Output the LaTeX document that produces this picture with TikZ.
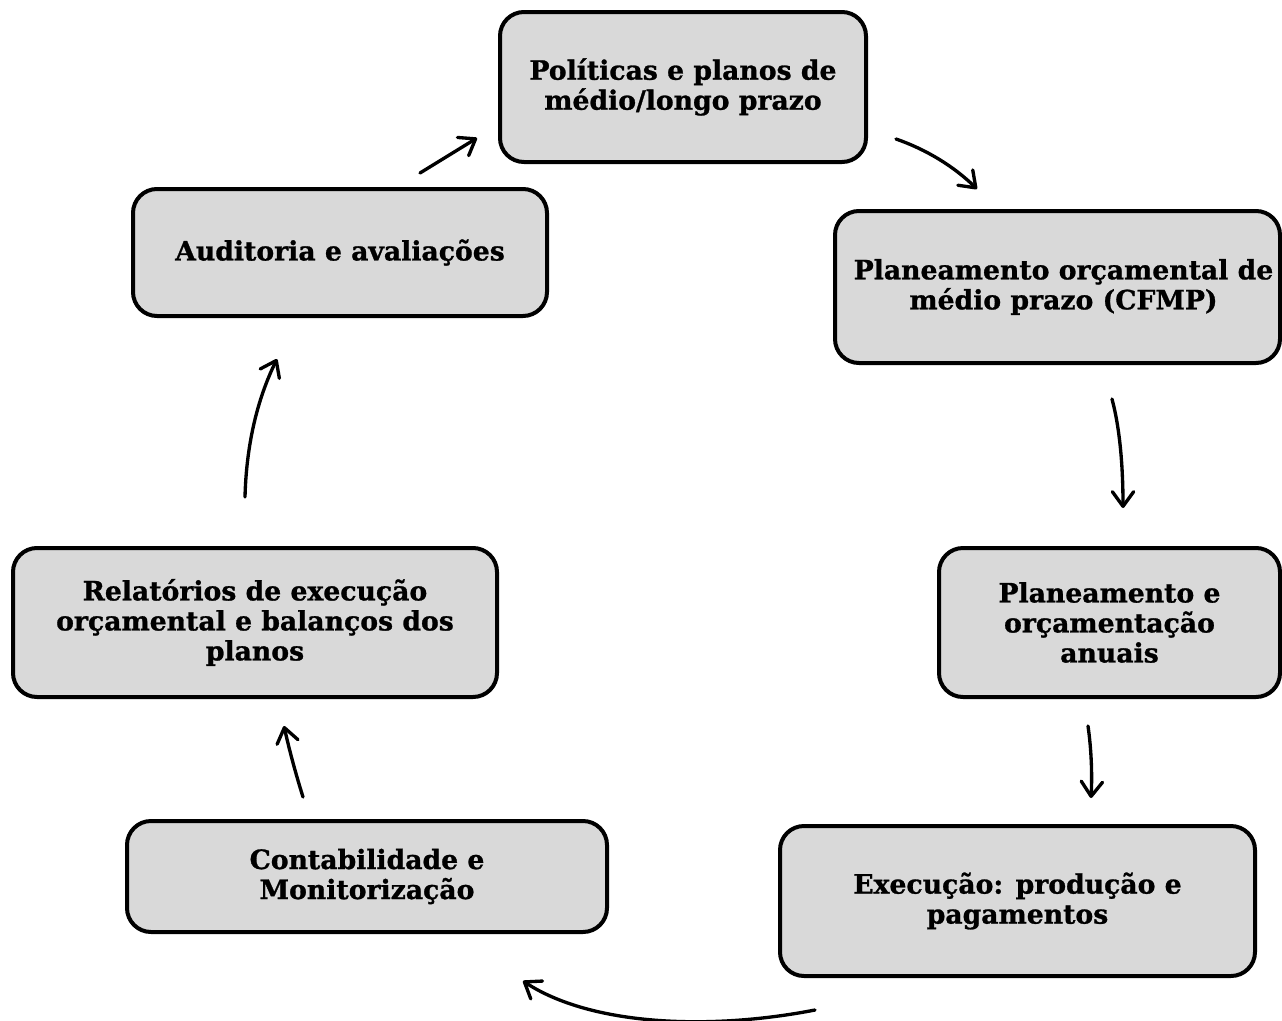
\documentclass[tikz,border=0pt]{standalone}
\usepackage{fontspec}
\setmainfont{DejaVu Serif}[BoldFeatures={FakeBold=1}]
\usetikzlibrary{arrows.meta}
\definecolor{boxgray}{HTML}{D9D9D9}
\begin{document}
\begin{tikzpicture}[x=0.75pt,y=-0.75pt,
  box/.style={draw=black, line width=3pt, fill=boxgray, rounded corners=18pt,
    align=center, inner sep=0pt,
    font=\fontsize{20}{22.5}\selectfont\bfseries},
  flow/.style={line width=2.5pt, line cap=round,
    -{Straight Barb[length=11pt,width=16pt,line cap=round,line join=round]}}]
\useasboundingbox (0,0) rectangle (1282,1021);
\clip (0,0) rectangle (1282,1021);

\node[box, minimum width=274.5pt, minimum height=112.5pt] (pol) at (683,87)
  {Políticas e planos de\\médio/longo prazo};
\node[box, minimum width=310.5pt, minimum height=95.25pt] (aud) at (340,252.5)
  {Auditoria e avaliações};
\node[box, minimum width=333.75pt, minimum height=114pt] (cfmp) at (1057.5,287)
  {\hspace*{9pt}Planeamento orçamental de\\\hspace*{9pt}médio prazo (CFMP)};
\node[box, minimum width=255.75pt, minimum height=111.75pt] (anu) at (1109.5,622.5)
  {Planeamento e\\orçamentação\\anuais};
\node[box, minimum width=363pt, minimum height=111.75pt] (rel) at (255,622.5)
  {Relatórios de execução\\orçamental e balanços dos\\planos};
\node[box, minimum width=360pt, minimum height=83.25pt] (con) at (367,876.5)
  {Contabilidade e\\Monitorização};
\node[box, minimum width=356.25pt, minimum height=112.5pt] (exe) at (1017.5,901)
  {Execução: produção e\\pagamentos};

\coordinate (a1s) at (420,173);  \coordinate (a1e) at (477,138);
\coordinate (a2s) at (896,139);  \coordinate (a2e) at (977,189);
\coordinate (a3s) at (1112,399); \coordinate (a3e) at (1123,508);
\coordinate (a4s) at (1088,726); \coordinate (a4e) at (1091,798);
\coordinate (a5s) at (815,1010); \coordinate (a5e) at (523,981);
\coordinate (a6s) at (303,797);  \coordinate (a6e) at (284,726);
\coordinate (a7s) at (245,497);  \coordinate (a7e) at (277,359);

\draw[flow] (a1s) -- (a1e);
\draw[flow] (a2s) .. controls (926.7,149.7) and (953.7,166.3) .. (a2e);
\draw[flow] (a3s) .. controls (1119.3,426.3) and (1123,462.7) .. (a3e);
\draw[flow] (a4s) .. controls (1091.3,748.7) and (1092.3,774) .. (a4e);
\draw[flow] (a5s) .. controls (707,1031) and (590,1025) .. (a5e);
\draw[flow] (a6s) .. controls (295.7,773.7) and (289.3,750) .. (a6e);
\draw[flow] (a7s) .. controls (246.3,445.7) and (257,399.7) .. (a7e);
\end{tikzpicture}
\end{document}
